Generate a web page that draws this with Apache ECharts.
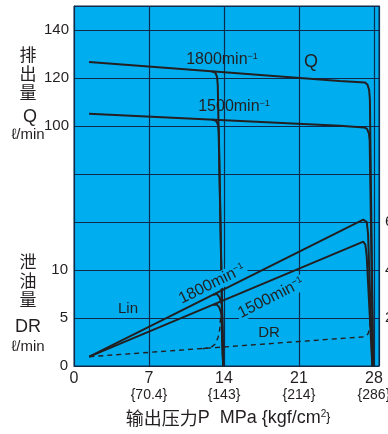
<!DOCTYPE html>
<html>
<head>
<meta charset="utf-8">
<script src="https://cdn.jsdelivr.net/npm/echarts@6/dist/echarts.min.js"></script>
<style>
html,body{margin:0;padding:0;background:#fff;}
#c{width:388px;height:434px;}
</style>
</head>
<body>
<div id="c"></div>
<script>
// ---- data ----
const xTicks = [0, 7, 14, 21, 28];
const xTicksKgf = ['', '{70.4}', '{143}', '{214}', '{286}'];
const qTickLabels = [100, 120, 140];
const drTickLabels = [0, 5, 10];
const linTickLabels = [2, 4, 6];

// Q (l/min) vs P (MPa)
const q1800 = [[1.4,126.7],[24.8,118.8],[27.17,118.1],[27.4,117.2],[27.55,115],[27.62,111],[27.92,0]];
const q1500 = [[1.4,105.1],[24.8,100.1],[27.1,99.4],[27.35,98.8],[27.52,97],[27.6,94],[27.92,0]];
const q1800at14 = [[12.85,122.8],[13.2,122.2],[13.35,120.5],[13.42,117],[13.92,0]];
const q1500at14 = [[12.9,102.7],[13.25,102.2],[13.45,100.5],[13.52,97.5],[13.92,0]];

// Lin (kW) vs P
const lin1800 = [[1.43,0.39],[27.0,6.1],[27.17,6.15],[27.33,6.0],[27.45,5.5],[27.85,0]];
const lin1500 = [[1.43,0.39],[27.01,5.18],[27.2,5.05],[27.32,4.6],[27.85,0]];
const lin1800at14 = [[13.0,2.97],[13.35,3.0],[13.6,2.85],[13.8,2.55],[13.92,0]];
const lin1500at14 = [[13.0,2.55],[13.35,2.55],[13.55,2.45],[13.75,2.2],[13.92,0]];

// DR (l/min) vs P
const dr = [[1.43,0.97],[27.17,3.05],[27.45,3.35],[27.6,4.0],[27.7,5.2]];
const drAt14 = [[12.0,1.8],[12.8,1.95],[13.2,2.3],[13.45,3.0],[13.6,3.8],[13.72,5.8]];

// ---- chart ----
const BLUE = '#00AEEF';
const NAVY = '#0d2a4c';
const INK = '#231f20';
const FONT = '"Liberation Sans", Arial, sans-serif';
const CJK = '"Noto Sans CJK SC", "Liberation Sans", sans-serif';

function lineSeries(data, yIdx, dashed) {
  return {
    type: 'line', data: data, yAxisIndex: yIdx, xAxisIndex: 0,
    showSymbol: false, symbol: 'none', animation: false, silent: true,
    lineStyle: dashed ? {color: INK, width: 1.4, type: [5, 4]} : {color: INK, width: 2},
    z: 3
  };
}

const chart = echarts.init(document.getElementById('c'), null, {renderer: 'canvas'});
const option = {
  animation: false,
  grid: {left: 74, right: 9, top: 6, bottom: 68, show: true, backgroundColor: BLUE, borderColor: NAVY, borderWidth: 1,
    containLabel: false, outerBoundsMode: 'none'},
  xAxis: [
    {
      type: 'value', min: 0, max: 28.47, interval: 7,
      axisLine: {show: true, lineStyle: {color: NAVY, width: 1}},
      axisTick: {show: false},
      splitLine: {show: true, lineStyle: {color: NAVY, width: 1.2}},
      axisLabel: {
        show: true, margin: 5, fontSize: 16, color: INK, fontFamily: FONT, showMaxLabel: false,
        formatter: v => xTicks.indexOf(v) >= 0 ? String(v) : ''
      }
    },
    {
      type: 'value', min: 0, max: 28.47, interval: 7, position: 'bottom',
      axisLine: {show: false}, axisTick: {show: false}, splitLine: {show: false},
      axisLabel: {
        show: true, margin: 22, fontSize: 14, color: INK, fontFamily: FONT, showMaxLabel: false,
        formatter: v => { const i = xTicks.indexOf(v); return i >= 0 ? xTicksKgf[i] : ''; }
      }
    }
  ],
  yAxis: [
    {
      type: 'value', min: 0, max: 150, interval: 20, position: 'left',
      axisLine: {show: true, lineStyle: {color: NAVY}}, axisTick: {show: false},
      splitLine: {show: true, lineStyle: {color: NAVY, width: 1.2}},
      axisLabel: {margin: 5, fontSize: 15, color: INK, fontFamily: FONT,
        formatter: v => qTickLabels.indexOf(v) >= 0 ? String(v) : ''}
    },
    {
      type: 'value', min: 0, max: 37.5, interval: 5, position: 'left',
      axisLine: {show: false}, axisTick: {show: false}, splitLine: {show: false},
      axisLabel: {margin: 6, fontSize: 15, color: INK, fontFamily: FONT,
        formatter: v => drTickLabels.indexOf(v) >= 0 ? String(v) : ''}
    },
    {
      type: 'value', min: 0, max: 15, interval: 2, position: 'right',
      axisLine: {show: true, lineStyle: {color: NAVY}}, axisTick: {show: false}, splitLine: {show: false},
      axisLabel: {margin: 6, fontSize: 15, color: INK, fontFamily: FONT,
        formatter: v => linTickLabels.indexOf(v) >= 0 ? String(v) : ''}
    }
  ],
  series: [
    lineSeries(q1800, 0), lineSeries(q1500, 0), lineSeries(q1800at14, 0), lineSeries(q1500at14, 0),
    lineSeries(lin1800, 2), lineSeries(lin1500, 2), lineSeries(lin1800at14, 2), lineSeries(lin1500at14, 2),
    lineSeries(dr, 1, true), lineSeries(drAt14, 1, true)
  ],
  graphic: []
};

const supRich = {
  m: {fontSize: 16, fontFamily: FONT, fill: INK},
  s: {fontSize: 9, fontFamily: FONT, fill: INK, verticalAlign: 'top'}
};
function txt(text, x, y, size, opts) {
  opts = opts || {};
  return {
    type: 'text', x: x, y: y, rotation: opts.rotation || 0, z: 10,
    style: Object.assign({
      text: text, fontSize: size, fontFamily: opts.family || FONT, fill: opts.fill || INK,
      align: 'center', verticalAlign: 'middle', lineHeight: opts.lineHeight
    }, opts.extra || {})
  };
}
function rpmLabel(rpm, x, y, rot, bg) {
  return {
    type: 'text', x: x, y: y, rotation: rot || 0, z: 10,
    style: {
      text: '{m|' + rpm + 'min}{s|−1}', rich: supRich, align: 'center', verticalAlign: 'middle',
      backgroundColor: bg ? BLUE : null, padding: bg ? [0, 2, 0, 2] : 0
    }
  };
}

option.graphic = [
  // in-plot labels
  rpmLabel('1800', 222, 60, 0, false),
  txt('Q', 311, 62, 18),
  rpmLabel('1500', 234, 107, 0, false),
  txt('Lin', 128, 309, 15),
  rpmLabel('1800', 212, 284, 0.46, true),
  rpmLabel('1500', 271, 298, 0.47, true),
  txt('DR', 269, 333, 15),
  // left axis names
  txt('排\n出\n量', 28, 74, 17, {family: CJK, lineHeight: 19}),
  txt('Q', 30, 117, 18),
  txt('ℓ/min', 28, 135, 15),
  txt('泄\n油\n量', 28, 281, 17, {family: CJK, lineHeight: 19}),
  txt('DR', 28, 327, 18),
  txt('ℓ/min', 28, 347, 15),
  // x axis name
  {
    type: 'text', x: 228, y: 418, z: 10,
    style: {
      text: '{c|输出压力}{m|P  MPa {kgf/cm}{s|2}{m|}}',
      align: 'center', verticalAlign: 'middle',
      rich: {
        c: {fontSize: 18, fontFamily: CJK, fill: INK},
        m: {fontSize: 18, fontFamily: FONT, fill: INK},
        s: {fontSize: 10, fontFamily: FONT, fill: INK, verticalAlign: 'top'}
      }
    }
  }
];

chart.setOption(option);
</script>
</body>
</html>
